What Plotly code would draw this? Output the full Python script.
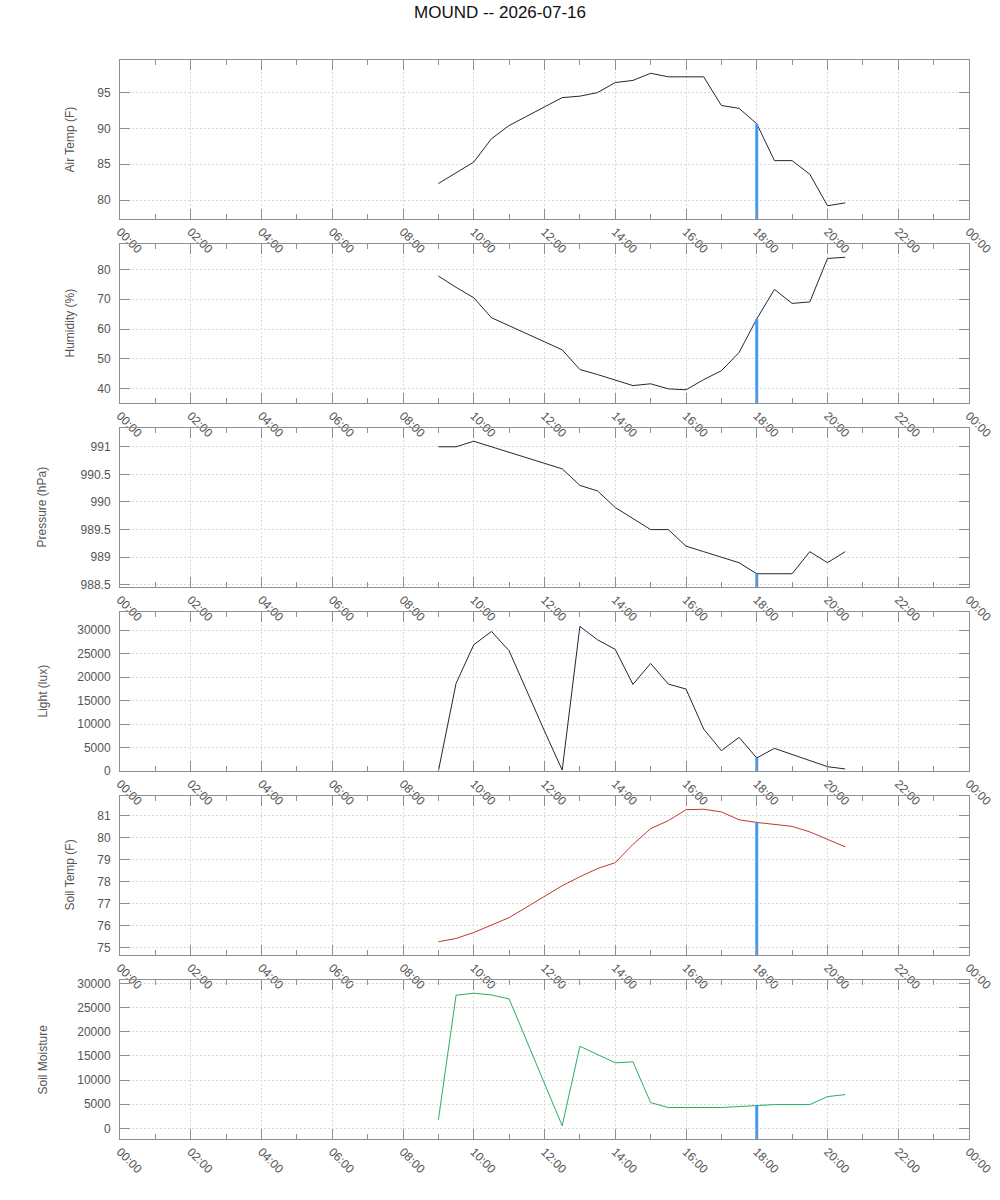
import plotly.graph_objects as go

DATE = "2026-07-16"
TITLE = "MOUND -- 2026-07-16"

times = ["09:00", "09:30", "10:00", "10:30", "11:00", "11:30", "12:00", "12:30",
         "13:00", "13:30", "14:00", "14:30", "15:00", "15:30", "16:00", "16:30",
         "17:00", "17:30", "18:00", "18:30", "19:00", "19:30", "20:00", "20:30"]

air_temp = [82.3, 83.8, 85.3, 88.55, 90.4, 91.7, 93.0, 94.3, 94.5, 95.0, 96.4, 96.7,
            97.7, 97.2, 97.2, 97.2, 93.2, 92.8, 90.65, 85.5, 85.5, 83.6, 79.2, 79.6]
humidity = [77.8, 74.0, 70.5, 63.8, 61.1, 58.3, 55.7, 53.0, 46.4, 44.7, 42.9, 41.0,
            41.6, 39.9, 39.6, 43.0, 46.0, 52.1, 63.4, 73.3, 68.6, 69.1, 83.7, 84.1]
pressure = [991.0, 991.0, 991.1, 991.0, 990.9, 990.8, 990.7, 990.6, 990.3, 990.2, 989.9, 989.7,
            989.5, 989.5, 989.2, 989.1, 989.0, 988.9, 988.7, 988.7, 988.7, 989.1, 988.9, 989.1]
light = [0, 18650, 26880, 29720, 25600, 17000, 8500, 200, 30780, 27940, 25890, 18440,
         22900, 18510, 17450, 8940, 4330, 7160, 2770, 4820, 3550, 2200, 920, 430]
soil_temp = [75.27, 75.42, 75.69, 76.02, 76.37, 76.85, 77.34, 77.82, 78.23, 78.60, 78.87, 79.70,
             80.42, 80.78, 81.28, 81.30, 81.18, 80.82, 80.70, 80.60, 80.52, 80.27, 79.92, 79.59]
soil_moisture = [1780, 27530, 27950, 27600, 26780, 18080, 9250, 550, 16990, 15270, 13560, 13770,
                 5340, 4320, 4320, 4320, 4320, 4520, 4730, 4930, 4930, 4930, 6580, 6990]

cursor_time = "18:00"

panel_titles = ["Air Temp (F)", "Humidity (%)", "Pressure (hPa)", "Light (lux)",
                "Soil Temp (F)", "Soil Moisture"]
series = [air_temp, humidity, pressure, light, soil_temp, soil_moisture]
line_colors = ["#1c2a3a", "#1c2a3a", "#1c2a3a", "#1c2a3a", "#c0392b", "#27ae60"]
y_dticks = [5, 10, 0.5, 5000, 1, 5000]
floor_zero = [False, False, False, True, False, False]
title_x_px = [70, 70, 42, 42, 69, 42]

W, H = 1000, 1200
x_left, x_right = 120, 969
top0, panel_h, period = 60, 159, 184

xs = [f"{DATE} {t}" for t in times]
cursor_x = f"{DATE} {cursor_time}"
cursor_idx = times.index(cursor_time)

fig = go.Figure()
layout = dict(
    width=W, height=H,
    margin=dict(l=0, r=0, t=0, b=0, pad=0, autoexpand=False),
    paper_bgcolor="white", plot_bgcolor="white",
    showlegend=False,
    font=dict(family="Liberation Sans, Arial, sans-serif", size=12, color="#555"),
    title=dict(text=TITLE, x=0.5, xanchor="center", y=1 - 12 / H, yanchor="middle",
               automargin=False, font=dict(size=17, color="#111")),
)

axis_color = "#8f8f8f"
grid_color = "#dadada"
annotations = []

for i, (vals, name, col, dt, fz) in enumerate(zip(series, panel_titles, line_colors, y_dticks, floor_zero)):
    n = "" if i == 0 else str(i + 1)
    top = top0 + i * period
    bot = top + panel_h
    lo, hi = min(vals), max(vals)
    pad = 0.1 * (hi - lo)
    rlo = 0 if fz else lo - pad
    rhi = hi + pad

    fig.add_trace(go.Scatter(x=xs, y=vals, mode="lines", line=dict(color=col, width=1),
                             xaxis="x" + n, yaxis="y" + n, hoverinfo="skip"))
    fig.add_trace(go.Scatter(x=[cursor_x, cursor_x], y=[rlo, vals[cursor_idx]], mode="lines",
                             line=dict(color="#4499f2", width=3),
                             xaxis="x" + n, yaxis="y" + n, hoverinfo="skip"))

    layout["xaxis" + n] = dict(
        type="date",
        domain=[x_left / W, x_right / W],
        anchor="y" + n,
        automargin=False,
        range=[f"{DATE} 00:00", "2026-07-17 00:00"],
        tickformat="%H:%M", dtick=7200000, tick0=f"{DATE} 00:00",
        tickangle=45,
        ticks="inside", ticklen=10, tickcolor=axis_color, tickwidth=1,
        minor=dict(dtick=3600000, tick0=f"{DATE} 00:00", ticks="inside", ticklen=5,
                   tickcolor=axis_color, showgrid=False),
        showline=True, linecolor=axis_color, linewidth=1, mirror="allticks",
        showgrid=True, gridcolor=grid_color, griddash="2px,2px", gridwidth=1,
        zeroline=False,
        tickfont=dict(size=12, color="#555"),
        fixedrange=True,
    )
    layout["yaxis" + n] = dict(
        domain=[1 - bot / H, 1 - top / H],
        anchor="x" + n,
        automargin=False,
        range=[rlo, rhi],
        dtick=dt, tick0=0,
        tickformat="d" if dt >= 1000 else "",
        ticks="inside", ticklen=10, tickcolor=axis_color, tickwidth=1,
        ticklabelstandoff=6,
        showline=True, linecolor=axis_color, linewidth=1, mirror="allticks",
        showgrid=True, gridcolor=grid_color, griddash="2px,2px", gridwidth=1,
        zeroline=False,
        tickfont=dict(size=12, color="#555"),
        fixedrange=True,
    )
    annotations.append(dict(
        text=name, textangle=-90, showarrow=False,
        xref="paper", yref="paper",
        x=title_x_px[i] / W, y=1 - (top + bot) / 2 / H,
        xanchor="center", yanchor="middle",
        font=dict(size=12, color="#555"),
    ))

layout["annotations"] = annotations
fig.update_layout(**layout)
fig.write_html("out.html", config={"displayModeBar": False},
               post_script="document.body.style.margin='0';document.body.style.padding='0';")
